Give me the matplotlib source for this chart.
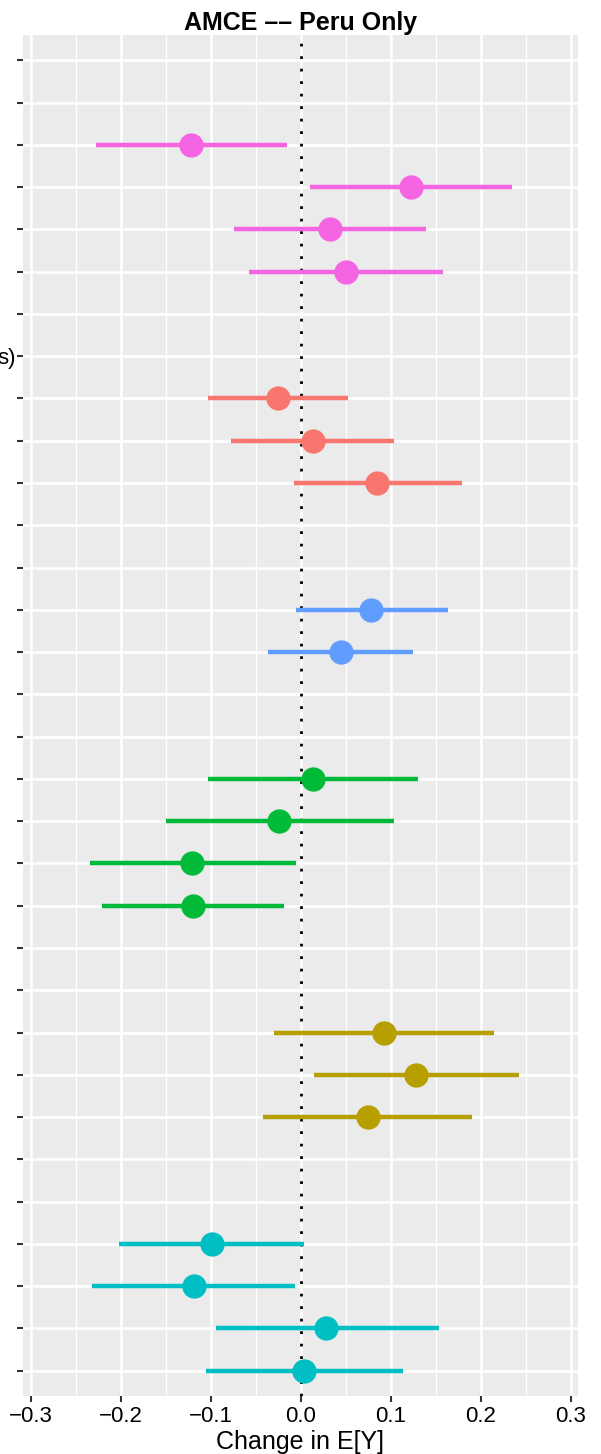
import numpy as np
import matplotlib.pyplot as plt

plt.rcParams['font.family'] = ['Liberation Sans', 'DejaVu Sans']

# rows from top to bottom (32 levels); empty rows are attribute headers
n_rows = 32
row_labels = [''] * n_rows
row_labels[7] = 's)'

# estimates by group: row index (1-based, from top), estimate, lower, upper
pink_rows = [3, 4, 5, 6]
pink_est = [-0.122, 0.122, 0.032, 0.050]
pink_lo = [-0.228, 0.010, -0.074, -0.058]
pink_hi = [-0.015, 0.235, 0.139, 0.158]

red_rows = [9, 10, 11]
red_est = [-0.026, 0.013, 0.085]
red_lo = [-0.103, -0.078, -0.008]
red_hi = [0.052, 0.103, 0.179]

blue_rows = [14, 15]
blue_est = [0.078, 0.044]
blue_lo = [-0.006, -0.037]
blue_hi = [0.164, 0.125]

green_rows = [18, 19, 20, 21]
green_est = [0.013, -0.024, -0.121, -0.120]
green_lo = [-0.103, -0.150, -0.235, -0.221]
green_hi = [0.130, 0.103, -0.006, -0.019]

olive_rows = [24, 25, 26]
olive_est = [0.092, 0.128, 0.074]
olive_lo = [-0.030, 0.014, -0.042]
olive_hi = [0.215, 0.242, 0.190]

cyan_rows = [29, 30, 31, 32]
cyan_est = [-0.099, -0.119, 0.028, 0.003]
cyan_lo = [-0.202, -0.232, -0.094, -0.106]
cyan_hi = [0.003, -0.007, 0.153, 0.113]

groups = [
    (pink_rows, pink_est, pink_lo, pink_hi, '#F564E3'),
    (red_rows, red_est, red_lo, red_hi, '#F8766D'),
    (blue_rows, blue_est, blue_lo, blue_hi, '#619CFF'),
    (green_rows, green_est, green_lo, green_hi, '#00BA38'),
    (olive_rows, olive_est, olive_lo, olive_hi, '#B79F00'),
    (cyan_rows, cyan_est, cyan_lo, cyan_hi, '#00BFC4'),
]

fig = plt.figure(figsize=(6.01, 14.54), dpi=100)
ax = fig.add_axes([23 / 601, 1 - 1396 / 1454, 555 / 601, 1361 / 1454])
ax.set_facecolor('#EBEBEB')

# grid
for x in [-0.25, -0.15, -0.05, 0.05, 0.15, 0.25]:
    ax.axvline(x, color='white', lw=0.9, zorder=0)
for x in np.arange(-0.3, 0.31, 0.1):
    ax.axvline(x, color='white', lw=1.8, zorder=0)
for y in range(1, n_rows + 1):
    ax.axhline(y, color='white', lw=1.8, zorder=0)

ax.axvline(0, color='black', lw=2, linestyle=(0, (1, 3.5)), zorder=1)

for rows, est, lo, hi, col in groups:
    ax.hlines(rows, lo, hi, color=col, lw=3.2, zorder=2)
    ax.plot(est, rows, 'o', color=col, markersize=17.5, markeredgewidth=0, zorder=3)

ax.set_xlim(-0.309, 0.308)
ax.set_ylim(n_rows + 0.6, 0.4)
ax.set_xticks(np.round(np.arange(-0.3, 0.31, 0.1), 1))
ax.set_xticklabels(['\u22120.3', '\u22120.2', '\u22120.1', '0.0', '0.1', '0.2', '0.3'])
ax.set_yticks(range(1, n_rows + 1))
ax.set_yticklabels(row_labels)
ax.tick_params(axis='both', colors='#333333', labelcolor='black', labelsize=16,
               length=4, width=1.5)
ax.tick_params(axis='x', pad=3)
ax.tick_params(axis='y', pad=1.5)
for s in ax.spines.values():
    s.set_visible(False)

ax.set_xlabel('Change in E[Y]', fontsize=18, labelpad=2)
ax.set_title('AMCE \u2013\u2013 Peru Only', fontsize=18, fontweight='bold', pad=3)

fig.savefig('out.png', dpi=100)
